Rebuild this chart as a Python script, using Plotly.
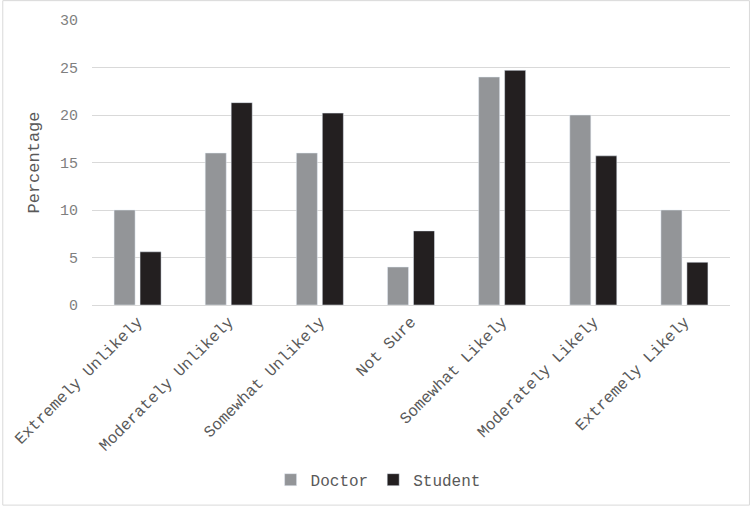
import plotly.graph_objects as go

categories = ["Extremely Unlikely", "Moderately Unlikely", "Somewhat Unlikely", "Not Sure",
              "Somewhat Likely", "Moderately Likely", "Extremely Likely"]
doctor = [10, 16, 16, 4, 24, 20, 10]
student = [5.6, 21.3, 20.2, 7.8, 24.7, 15.7, 4.5]
y_ticks = [0, 5, 10, 15, 20, 25, 30]

W, H = 750, 509
L, R, T, B = 90, 20, 20, 202
pw, ph = W - L - R, H - T - B

font = "Liberation Mono, Courier New, monospace"
txt = "#595959"

fig = go.Figure()
fig.add_trace(go.Bar(name="Doctor", x=categories, y=doctor, marker_color="#939598"))
fig.add_trace(go.Bar(name="Student", x=categories, y=student, marker_color="#231F20"))

fig.update_layout(
    width=W, height=H,
    margin=dict(l=L, r=R, t=T, b=B),
    paper_bgcolor="white", plot_bgcolor="white",
    barmode="group", bargap=0.43, bargroupgap=0.19,
    font=dict(family=font, size=15, color=txt),
    legend=dict(orientation="h", x=(377 - L) / pw, xanchor="center", y=(T + ph - 483) / ph, yanchor="middle",
                font=dict(size=16, color=txt), itemwidth=30, traceorder="normal"),
    xaxis=dict(tickangle=-45, showgrid=False, showline=True, linecolor="#d9d9d9", linewidth=1,
               ticks="", tickfont=dict(size=16, color=txt)),
    yaxis=dict(range=[0, 30], tickvals=y_ticks, showgrid=True, gridcolor="#d9d9d9", gridwidth=1,
               zeroline=False, showline=False, ticks="", ticklen=0, ticklabelstandoff=13,
               title=dict(text="Percentage", font=dict(size=17, color=txt), standoff=16),
               tickfont=dict(size=15, color="#7f7f7f")),
    shapes=[dict(type="rect", xref="paper", yref="paper",
                 x0=(0.5 - L) / pw, x1=(W - 0.5 - L) / pw,
                 y0=(T + ph - (H - 0.5)) / ph, y1=(T + ph - 0.5) / ph,
                 line=dict(color="#d9d9d9", width=1), fillcolor="rgba(0,0,0,0)", layer="below")],
)

fig.write_html("out.html")
